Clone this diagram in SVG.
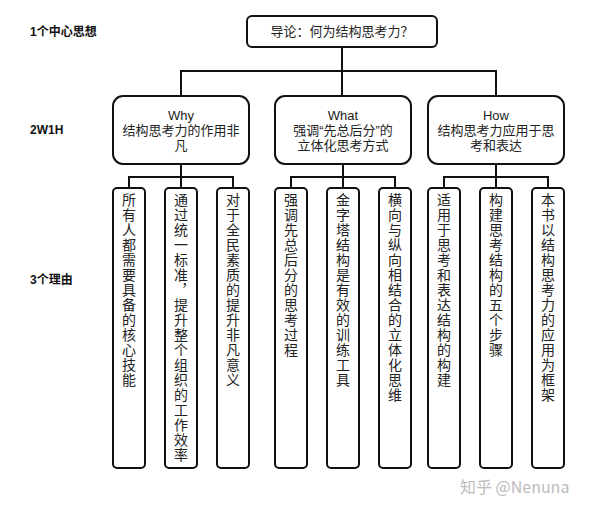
<svg xmlns="http://www.w3.org/2000/svg" width="600" height="509" viewBox="0 0 600 509">
<style>
.b{fill:#fff;stroke:#111;stroke-width:2}
.t{font-family:"Liberation Sans","Noto Sans CJK SC",sans-serif;font-size:13px;fill:#222;text-anchor:middle}
.v{font-family:"Noto Sans CJK SC",sans-serif;font-size:14px;fill:#222;writing-mode:vertical-rl;letter-spacing:1px}
.l{font-family:"Liberation Sans","Noto Sans CJK SC",sans-serif;font-size:12px;font-weight:bold;fill:#111}
.c{fill:none;stroke:#111;stroke-width:2}
</style>
<rect width="600" height="509" fill="#fff"/>
<text class="l" x="30" y="36">1个中心思想</text>
<text class="l" x="30" y="134">2W1H</text>
<text class="l" x="30" y="284">3个理由</text>
<g id="connectors">
<path class="c" d="M342 47V71M181 96V71H496V96M342 71V96"/>
<path class="c" d="M181 164V177M129 188V177H233V188M181 177V188"/>
<path class="c" d="M343 164V177M291 188V177H395V188M343 177V188"/>
<path class="c" d="M496 164V177M444 188V177H548V188M496 177V188"/>
</g>
<g id="root"><rect class="b" x="247" y="16" width="190" height="31" rx="5"/><text class="t" x="342" y="36">导论：何为结构思考力？</text></g>
<g id="why"><rect class="b" x="113" y="96" width="136" height="68" rx="10"/><text class="t" x="181" y="120">Why</text><text class="t" x="181" y="135">结构思考力的作用非</text><text class="t" x="181" y="150">凡</text></g>
<g id="what"><rect class="b" x="275" y="96" width="136" height="68" rx="10"/><text class="t" x="343" y="120">What</text><text class="t" x="343" y="135">强调“先总后分”的</text><text class="t" x="343" y="150">立体化思考方式</text></g>
<g id="how"><rect class="b" x="428" y="96" width="136" height="68" rx="10"/><text class="t" x="496" y="120">How</text><text class="t" x="496" y="135">结构思考力应用于思</text><text class="t" x="496" y="150">考和表达</text></g>
<g id="l1"><rect class="b" x="113" y="188" width="32" height="280" rx="4"/><text class="v" x="129" y="193">所有人都需要具备的核心技能</text></g>
<g id="l2"><rect class="b" x="165" y="188" width="32" height="280" rx="4"/><text class="v" x="181" y="193">通过统一标准，提升整个组织的工作效率</text></g>
<g id="l3"><rect class="b" x="217" y="188" width="32" height="280" rx="4"/><text class="v" x="233" y="193">对于全民素质的提升非凡意义</text></g>
<g id="l4"><rect class="b" x="275" y="188" width="32" height="280" rx="4"/><text class="v" x="291" y="193">强调先总后分的思考过程</text></g>
<g id="l5"><rect class="b" x="327" y="188" width="32" height="280" rx="4"/><text class="v" x="343" y="193">金字塔结构是有效的训练工具</text></g>
<g id="l6"><rect class="b" x="379" y="188" width="32" height="280" rx="4"/><text class="v" x="395" y="193">横向与纵向相结合的立体化思维</text></g>
<g id="l7"><rect class="b" x="428" y="188" width="32" height="280" rx="4"/><text class="v" x="444" y="193">适用于思考和表达结构的构建</text></g>
<g id="l8"><rect class="b" x="480" y="188" width="32" height="280" rx="4"/><text class="v" x="496" y="193">构建思考结构的五个步骤</text></g>
<g id="l9"><rect class="b" x="532" y="188" width="32" height="280" rx="4"/><text class="v" x="548" y="193">本书以结构思考力的应用为框架</text></g>
<text x="460" y="493" font-family="Noto Sans CJK SC,sans-serif" font-size="16" fill="#bbb">知乎 @Nenuna</text>
</svg>
